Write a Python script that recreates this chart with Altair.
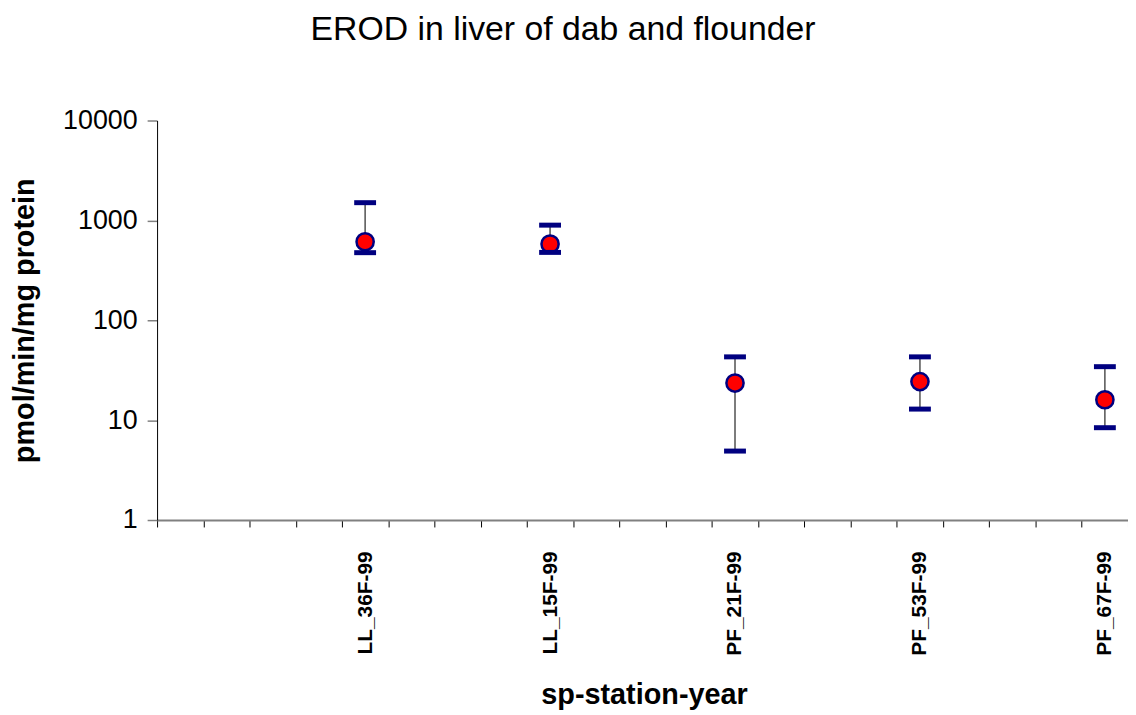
import altair as alt
import pandas as pd

# Category slots along the x axis (blank slots start with ".")
slots = [".01", ".02", ".03", ".04", "LL_36F-99", ".05", ".06", ".07", "LL_15F-99",
         ".08", ".09", ".10", "PF_21F-99", ".11", ".12", ".13", "PF_53F-99",
         ".14", ".15", ".16", "PF_67F-99"]

stations = ["LL_36F-99", "LL_15F-99", "PF_21F-99", "PF_53F-99", "PF_67F-99"]
mean_vals = [611, 580, 23.5, 24.3, 16.0]
lower_vals = [475, 478, 4.9, 12.9, 8.4]
upper_vals = [1504, 896, 43, 43, 34.3]

df = pd.DataFrame({"station": stations, "mean": mean_vals,
                   "lower": lower_vals, "upper": upper_vals})

df_caps = pd.DataFrame({"station": stations * 2,
                        "cap": lower_vals + upper_vals})

FONT = "Liberation Sans"

x_enc = alt.X("station:N",
              scale=alt.Scale(domain=slots, paddingInner=0, paddingOuter=0),
              axis=alt.Axis(title="sp-station-year",
                            labelExpr="substring(datum.value,0,1) == '.' ? '' : datum.value",
                            labelAngle=-90, labelFont=FONT, labelFontSize=21,
                            labelFontWeight="bold", labelColor="black",
                            labelPadding=24, labelOverlap=False, labelFlush=False,
                            tickBand="extent", tickSize=7, tickColor="black",
                            tickWidth=1, domainColor="#808080", domainWidth=2,
                            grid=False,
                            titleFont=FONT, titleFontSize=29, titleFontWeight="bold",
                            titleColor="black", titleX=490, titleY=176,
                            titleBaseline="middle", titleAlign="center"))

y_scale = alt.Scale(type="log", domain=[1, 10000])
y_axis = alt.Axis(title="pmol/min/mg protein", values=[1, 10, 100, 1000, 10000],
                  format="d", labelFont=FONT, labelFontSize=27, labelColor="black",
                  labelPadding=10, tickSize=10, tickColor="#808080", tickWidth=1.5,
                  domainColor="black", domainWidth=1, grid=False,
                  titleFont=FONT, titleFontSize=29, titleFontWeight="bold",
                  titleColor="black", titleX=-133, titleY=201,
                  titleBaseline="middle", titleAlign="center", titleAngle=-90)

rules = alt.Chart(df).mark_rule(color="#505050", strokeWidth=1.5).encode(
    x=x_enc,
    y=alt.Y("lower:Q", scale=y_scale, axis=y_axis),
    y2="upper:Q",
)

points = alt.Chart(df).mark_point(filled=True, shape="circle", size=300,
                                  fill="#FF0000", stroke="#000080",
                                  strokeWidth=2.5, opacity=1).encode(
    x=x_enc,
    y=alt.Y("mean:Q", scale=y_scale, axis=y_axis),
)

caps = alt.Chart(df_caps).mark_tick(color="#000080", thickness=5, size=22,
                                    orient="horizontal", opacity=1).encode(
    x=x_enc,
    y=alt.Y("cap:Q", scale=y_scale, axis=y_axis),
)

chart = alt.layer(rules, points, caps).properties(
    width=977, height=402,
    background="white",
    title=alt.TitleParams("EROD in liver of dab and flounder", font=FONT,
                          fontSize=34, fontWeight="normal", color="black",
                          anchor="middle", frame="group", dx=-80, offset=60),
    autosize=alt.AutoSizeParams(type="none"),
    padding={"left": 150, "top": 111, "right": 0, "bottom": 194},
).configure_view(strokeWidth=0, stroke="transparent")

chart.save("out.html", embed_options={"renderer": "svg", "actions": False})
